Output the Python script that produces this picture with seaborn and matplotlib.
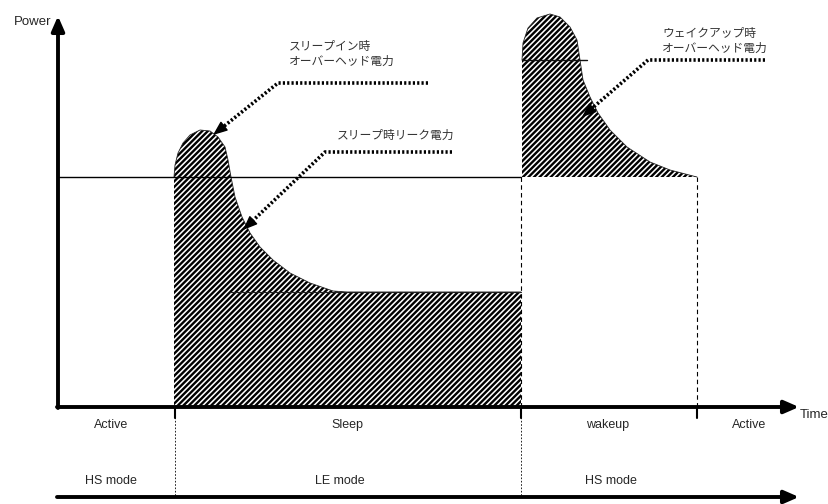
import numpy as np
import pandas as pd
import matplotlib as mpl
import matplotlib.pyplot as plt
import seaborn as sns

# power profile, x = time (px units), p = power above the time axis
sleep_t = [174, 174, 175, 178, 183, 190, 200, 210, 218, 225, 228, 231, 235, 242,
           250, 260, 273, 290, 310, 333, 347, 521]
sleep_p = [0, 230, 242, 254, 264, 272, 277, 276, 270, 260, 247, 230, 210, 190,
           174, 160, 147, 134, 124, 116, 115, 115]
wake_t = [522, 522, 523, 528, 537, 550, 560, 570, 577, 580, 583, 590, 598, 610,
          627, 650, 670, 693, 697]
wake_p = [230, 347, 364, 379, 389, 393, 390, 380, 367, 347, 327, 310, 294, 277,
          260, 245, 237, 231, 230]
active_level = 230
bounds = [175, 521, 697]

state_labels = ["Active", "Sleep", "wakeup", "Active"]
state_x = [111, 347, 608, 749]
mode_labels = ["HS mode", "LE mode", "HS mode"]
mode_x = [111, 340, 611]

notes = ["スリープイン時\nオーバーヘッド電力", "スリープ時リーク電力",
         "ウェイクアップ時\nオーバーヘッド電力"]
note_xy = [(289, 367), (337, 272), (662, 380)]
leaders = [[(428, 324), (278, 324), (213, 272)],
           [(452, 255), (325, 255), (243, 177)],
           [(765, 347), (648, 347), (582, 290)]]

sns.set_style("white")
plt.rcParams['font.family'] = ['Liberation Sans', 'DejaVu Sans']
plt.rcParams['hatch.linewidth'] = 1.7
jp = ['Noto Sans CJK JP', 'DejaVu Sans']

fig = plt.figure(figsize=(8.29, 5.04), dpi=100)
ax = fig.add_axes([0, 0, 1, 1])
ax.set_xlim(0, 829)
ax.set_ylim(-97, 407)
ax.axis('off')

#  -- hatched regions --------------------------------
ax.fill_between(sleep_t, 0, sleep_p, facecolor='white', edgecolor='black',
                hatch='//////', linewidth=0)
ax.fill_between(wake_t, active_level, wake_p, facecolor='white', edgecolor='black',
                hatch='//////', linewidth=0)
df_s = pd.DataFrame({"t": sleep_t[1:], "p": sleep_p[1:]})
df_w = pd.DataFrame({"t": wake_t[1:], "p": wake_p[1:]})
sns.lineplot(data=df_s, x="t", y="p", ax=ax, color='#222222', lw=0.6, sort=False)
sns.lineplot(data=df_w, x="t", y="p", ax=ax, color='#222222', lw=0.6, sort=False)
ax.plot([230, 521], [115, 115], color='#222222', lw=0.8)
ax.plot([522, 587], [347, 347], color='#111111', lw=1.0)

# active power level
ax.plot([58, 521], [active_level, active_level], color='black', lw=1.0)

#  -- axes arrows -------------------------------------
arr = dict(arrowstyle='-|>,head_length=0.55,head_width=0.24', color='black', lw=2.8,
           mutation_scale=16, shrinkA=0, shrinkB=0)
ax.annotate("", xy=(58, 391), xytext=(58, -1), arrowprops=arr)
ax.annotate("", xy=(799, 0), xytext=(57, 0), arrowprops=arr)
ax.annotate("", xy=(799, -90), xytext=(57, -90), arrowprops=arr)
for b in bounds:
    ax.plot([b, b], [0, -11], color='black', lw=1.5)

# boundaries
ax.plot([175, 175], [0, -90], color='black', lw=0.6, dashes=(2, 2))
ax.plot([521, 521], [230, 0], color='black', lw=0.8, dashes=(4, 3))
ax.plot([521, 521], [0, -90], color='black', lw=0.6, dashes=(2, 2))
ax.plot([697, 697], [230, 0], color='black', lw=0.8, dashes=(4, 3))

ax.text(51, 385, "Power", ha='right', va='center', fontsize=9.5)
ax.text(800, -8, "Time", ha='left', va='center', fontsize=9.5)
for lab, x in zip(state_labels, state_x):
    ax.text(x, -18, lab, ha='center', va='center', fontsize=9)
for lab, x in zip(mode_labels, mode_x):
    ax.text(x, -74, lab, ha='center', va='center', fontsize=9)

#  -- annotations -------------------------------------
for txt, (x, y) in zip(notes, note_xy):
    ax.text(x, y, txt, ha='left', va='top' if '\n' in txt else 'center',
            fontsize=8.5, family=jp, color='#333333', linespacing=1.2)
for pts in leaders:
    xs = [p[0] for p in pts]
    ys = [p[1] for p in pts]
    (x1, y1), (x2, y2) = pts[-2], pts[-1]
    f = 0.9
    xe, ye = x1 + (x2 - x1) * f, y1 + (y2 - y1) * f
    ax.plot(xs[:-1] + [xe], ys[:-1] + [ye], color='black', lw=2.6,
            dashes=(0.6, 0.6), solid_capstyle='butt')
    ax.annotate("", xy=(x2, y2), xytext=(xe, ye),
                arrowprops=dict(arrowstyle='-|>,head_length=0.8,head_width=0.32',
                                color='black', lw=1, mutation_scale=11,
                                shrinkA=0, shrinkB=0))

plt.savefig("out.png", dpi=100)
